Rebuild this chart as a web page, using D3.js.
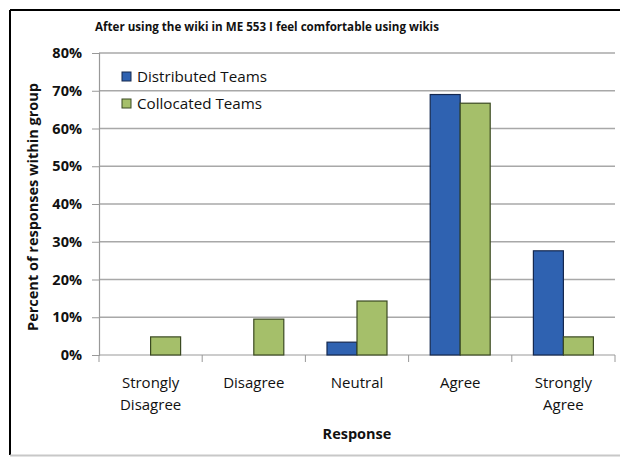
<!DOCTYPE html>
<html>
<head>
<meta charset="utf-8">
<script src="https://cdn.jsdelivr.net/npm/d3@7"></script>
<style>
  body { margin: 0; background: #fff; }
  text { font-family: "Open Sans", "Noto Sans", sans-serif; fill: #111; }
</style>
</head>
<body>
<div id="chart"></div>
<script>
var categories = [["Strongly", "Disagree"], ["Disagree"], ["Neutral"], ["Agree"], ["Strongly", "Agree"]];
var seriesNames = ["Distributed Teams", "Collocated Teams"];
var distributed = [0, 0, 3.4, 69.0, 27.6]; // percent
var collocated = [4.8, 9.5, 14.3, 66.7, 4.8];
var yTicks = [0, 10, 20, 30, 40, 50, 60, 70, 80];
var colors = ["#2f62b1", "#a5bf6a"];
var strokes = ["#15284f", "#3b4a22"];

var svgWidth = 620, svgHeight = 457;
var margin = { top: 53, right: 5, bottom: 102, left: 99 }; // plot area 99..615, 53..355
var chartWidth = svgWidth - margin.left - margin.right;
var chartHeight = svgHeight - margin.top - margin.bottom;

var svg = d3.select("#chart").append("svg")
    .attr("width", svgWidth)
    .attr("height", svgHeight);

// outer frame: black left/top, grey bottom
svg.append("line").attr("x1", 10).attr("y1", 10).attr("x2", 620).attr("y2", 10)
    .attr("stroke", "#000").attr("stroke-width", 2);
svg.append("line").attr("x1", 10).attr("y1", 10).attr("x2", 10).attr("y2", 455)
    .attr("stroke", "#000").attr("stroke-width", 2);
svg.append("line").attr("x1", 10).attr("y1", 455.5).attr("x2", 620).attr("y2", 455.5)
    .attr("stroke", "#c8c8c8").attr("stroke-width", 2);

var g = svg.append("g").attr("transform", `translate(${margin.left},${margin.top})`);

var x0 = d3.scaleBand().domain(d3.range(categories.length)).range([0, chartWidth]);
var x1 = d3.scaleBand().domain(d3.range(seriesNames.length))
    .range([0, x0.bandwidth()]).paddingOuter(0.72).paddingInner(0);
var y = d3.scaleLinear().domain([0, 80]).range([chartHeight, 0]);

// gridlines
g.selectAll(".grid").data(yTicks.slice(1)).enter().append("line")
    .attr("x1", 0).attr("x2", chartWidth)
    .attr("y1", d => y(d)).attr("y2", d => y(d))
    .attr("stroke", "#a8a8a8").attr("stroke-width", 1.5);

// y axis
var yAxis = g.append("g")
    .call(d3.axisLeft(y).tickValues(yTicks).tickFormat(d => d + "%").tickSize(7).tickPadding(10));
yAxis.select(".domain").attr("stroke", "#999").attr("stroke-width", 1.2);
yAxis.selectAll(".tick line").attr("stroke", "#999");
yAxis.selectAll("text").style("font-size", "14.5px").style("font-weight", "bold")
    .attr("fill", "#111");

// x axis
var xAxis = g.append("g").attr("transform", `translate(0,${chartHeight})`);
xAxis.append("line").attr("x1", 0).attr("x2", chartWidth)
    .attr("stroke", "#999").attr("stroke-width", 1.2);
xAxis.selectAll(".xt").data(d3.range(categories.length + 1)).enter().append("line")
    .attr("x1", d => d * x0.step()).attr("x2", d => d * x0.step())
    .attr("y1", 0).attr("y2", 7).attr("stroke", "#999");
var labels = xAxis.selectAll(".xl").data(categories).enter().append("text")
    .attr("text-anchor", "middle")
    .attr("transform", (d, i) => `translate(${x0(i) + x0.bandwidth() / 2},33)`)
    .style("font-size", "15px");
labels.selectAll("tspan").data(d => d).enter().append("tspan")
    .attr("x", 0).attr("dy", (d, i) => i === 0 ? 0 : 22).text(d => d);

// bars
var rows = categories.map((c, i) => [
    { s: 0, v: distributed[i] },
    { s: 1, v: collocated[i] }
].filter(d => d.v > 0));
var groups = g.selectAll(".cat").data(rows).enter().append("g")
    .attr("transform", (d, i) => `translate(${x0(i)},0)`);
groups.selectAll("rect").data(d => d).enter().append("rect")
    .attr("x", d => x1(d.s))
    .attr("width", x1.bandwidth())
    .attr("y", d => y(d.v))
    .attr("height", d => chartHeight - y(d.v))
    .attr("fill", d => colors[d.s])
    .attr("stroke", d => strokes[d.s])
    .attr("stroke-width", 1.2);

// legend
var legend = svg.selectAll(".legend").data(seriesNames).enter().append("g")
    .attr("transform", (d, i) => `translate(122,${72 + i * 27})`);
legend.append("rect").attr("width", 9).attr("height", 9)
    .attr("fill", (d, i) => colors[i]).attr("stroke", (d, i) => strokes[i]).attr("stroke-width", 1);
legend.append("text").attr("x", 15).attr("y", 5).attr("dy", "0.35em")
    .style("font-size", "15.2px").text(d => d);

// titles
svg.append("text").attr("x", 267).attr("y", 27).attr("dy", "0.35em")
    .attr("text-anchor", "middle").style("font-size", "11.6px").style("font-weight", "bold")
    .text("After using the wiki in ME 553 I feel comfortable using wikis");
svg.append("text").attr("transform", "translate(33,207) rotate(-90)").attr("dy", "0.35em")
    .attr("text-anchor", "middle").style("font-size", "14.5px").style("font-weight", "bold")
    .text("Percent of responses within group");
svg.append("text").attr("x", 357).attr("y", 434).attr("dy", "0.35em")
    .attr("text-anchor", "middle").style("font-size", "14.5px").style("font-weight", "bold")
    .text("Response");
</script>
</body>
</html>
